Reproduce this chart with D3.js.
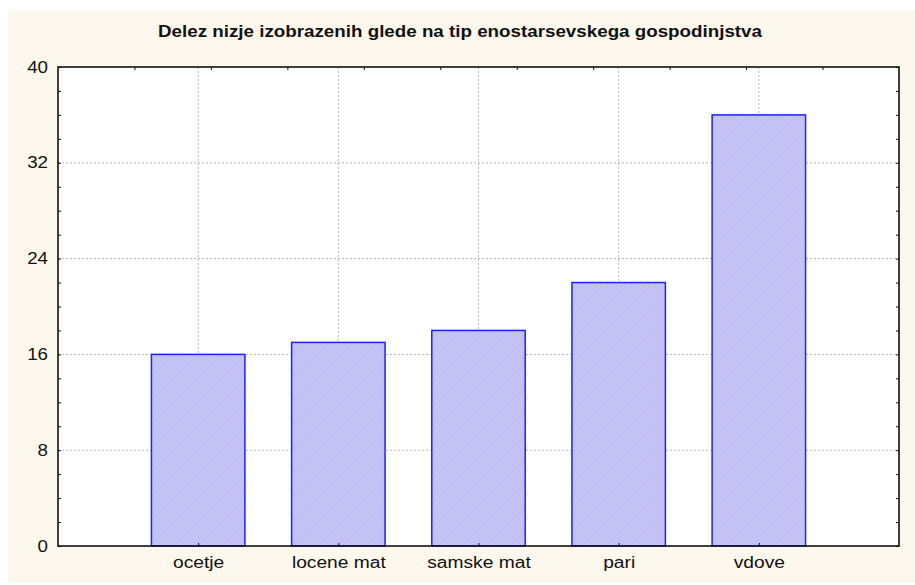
<!DOCTYPE html>
<html lang="en">
<head>
    <meta charset="UTF-8">
    <title>Delez nizje izobrazenih</title>
    <style>
        body { margin: 0; background: #ffffff; }
        svg text { font-family: "Liberation Sans", Arial, sans-serif; fill: #111; }
        .grid line { stroke: #b8b8b8; stroke-dasharray: 2,2; }
        .axis path { display: none; }
        .axis line { stroke: #111; }
    </style>
</head>
<body>
    <script src="https://d3js.org/d3.v7.min.js"></script>
    <script>
        var title = "Delez nizje izobrazenih glede na tip enostarsevskega gospodinjstva";
        var categories = ["ocetje", "locene mat", "samske mat", "pari", "vdove"];
        var values = [16, 17, 18, 22, 36];
        var yLabels = [0, 8, 16, 24, 32, 40];

        var W = 915, H = 585;
        var plot = {left: 58, top: 67, right: 899, bottom: 546};

        // text in the original is drawn a bit wider than normal
        function widen(sel, k) {
            sel.each(function() {
                var len = this.getComputedTextLength();
                if (len > 0) {
                    d3.select(this)
                        .attr("textLength", len * k)
                        .attr("lengthAdjust", "spacingAndGlyphs");
                }
            });
        }

        var svg = d3.select("body").append("svg")
            .attr("width", W)
            .attr("height", H);

        // hatch fill for the bars
        var pat = svg.append("defs").append("pattern")
            .attr("id", "hatch")
            .attr("patternUnits", "userSpaceOnUse")
            .attr("width", 3)
            .attr("height", 3);
        pat.append("rect").attr("width", 3).attr("height", 3).attr("fill", "#cacafc");
        pat.append("path").attr("d", "M-1,1 L1,-1 M0,3 L3,0 M2,4 L4,2")
            .attr("stroke", "#acacee").attr("stroke-width", 0.8);

        // frame background
        svg.append("rect")
            .attr("x", 8).attr("y", 10)
            .attr("width", W - 8).attr("height", 573)
            .attr("fill", "#fdf8ed");

        svg.append("rect")
            .attr("x", plot.left).attr("y", plot.top)
            .attr("width", plot.right - plot.left)
            .attr("height", plot.bottom - plot.top)
            .attr("fill", "#ffffff");

        var x = d3.scaleLinear()
            .domain([0, categories.length + 1])
            .range([plot.left, plot.right]);
        var y = d3.scaleLinear()
            .domain([0, 40])
            .range([plot.bottom, plot.top]);
        // top axis in this style has its own unrelated divisions
        var xTop = d3.scaleLinear().domain([0, 11]).range([plot.left, plot.right]);

        // grid
        var grid = svg.append("g").attr("class", "grid");
        grid.selectAll(".h")
            .data(yLabels.slice(1, -1))
            .enter().append("line")
            .attr("x1", plot.left).attr("x2", plot.right)
            .attr("y1", function(d) { return y(d); })
            .attr("y2", function(d) { return y(d); });
        grid.selectAll(".v")
            .data(categories)
            .enter().append("line")
            .attr("x1", function(d, i) { return x(i + 1); })
            .attr("x2", function(d, i) { return x(i + 1); })
            .attr("y1", plot.top).attr("y2", plot.bottom);

        // bars
        var barW = x(2 / 3) - x(0);
        svg.selectAll(".bar")
            .data(values)
            .enter().append("rect")
            .attr("class", "bar")
            .attr("x", function(d, i) { return x(i + 1) - barW / 2; })
            .attr("y", function(d) { return y(d); })
            .attr("width", barW)
            .attr("height", function(d) { return y(0) - y(d); })
            .attr("fill", "url(#hatch)")
            .attr("stroke", "#1f1fff")
            .attr("stroke-width", 1.5);

        // axes (ticks point inward)
        var yTicks = d3.range(0, 41, 2);
        svg.append("g")
            .attr("class", "axis")
            .attr("transform", "translate(" + plot.left + ",0)")
            .call(d3.axisLeft(y).tickValues(yTicks).tickSize(-3).tickPadding(10)
                .tickFormat(function(d) { return d % 8 === 0 ? d : ""; }))
            .selectAll("text")
            .style("font-size", "16px")
            .call(widen, 1.17);

        svg.append("g")
            .attr("class", "axis")
            .attr("transform", "translate(" + plot.right + ",0)")
            .call(d3.axisRight(y).tickValues(yTicks).tickSize(-3).tickFormat(""));

        svg.append("g")
            .attr("class", "axis")
            .attr("transform", "translate(0," + plot.top + ")")
            .call(d3.axisTop(xTop).tickValues(d3.range(1, 11)).tickSize(-3).tickFormat(""));

        svg.append("g")
            .attr("class", "axis")
            .attr("transform", "translate(0," + plot.bottom + ")")
            .call(d3.axisBottom(x).tickValues(d3.range(1, categories.length + 1))
                .tickSize(-3).tickPadding(11)
                .tickFormat(function(d) { return categories[d - 1]; }))
            .selectAll("text")
            .style("font-size", "16px")
            .call(widen, 1.2);

        // plot border
        svg.append("rect")
            .attr("x", plot.left).attr("y", plot.top)
            .attr("width", plot.right - plot.left)
            .attr("height", plot.bottom - plot.top)
            .attr("fill", "none")
            .attr("stroke", "#111")
            .attr("stroke-width", 1.6);

        svg.append("text")
            .attr("x", 460)
            .attr("y", 37)
            .attr("text-anchor", "middle")
            .style("font-size", "16px")
            .style("font-weight", "bold")
            .attr("textLength", 604)
            .attr("lengthAdjust", "spacingAndGlyphs")
            .text(title);
    </script>
</body>
</html>
